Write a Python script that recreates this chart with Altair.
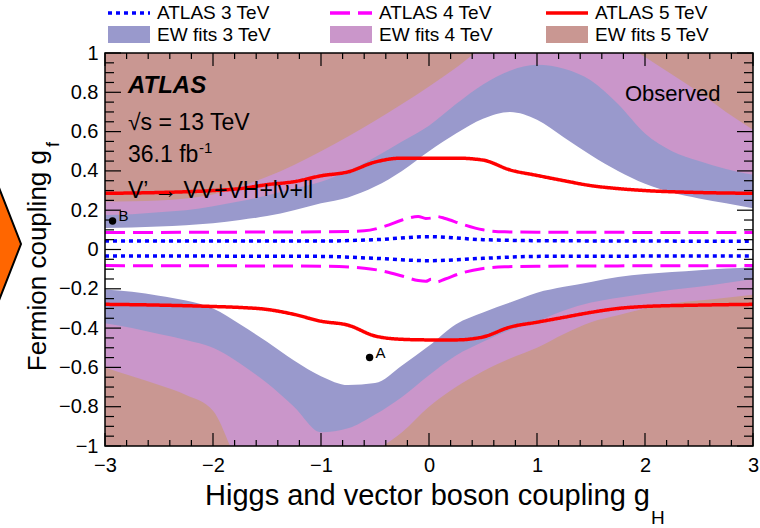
import altair as alt
import numpy as np
import pandas as pd

FONT = "Liberation Sans"
BROWN = "#C99792"
PINK = "#CA96CA"
BLUEBAND = "#9999CC"

# ---------------- data ----------------
GH = [-3.0, -2.75, -2.5, -2.25, -2.0, -1.75, -1.5, -1.25, -1.0, -0.75, -0.5, -0.25,
      0.0, 0.25, 0.5, 0.75, 1.0, 1.25, 1.5, 1.75, 2.0, 2.25, 2.5, 2.75, 3.0]
# EW fits 4 TeV (pink) outer edges  (beyond: EW fits 5 TeV, brown)
EW4_UP = [0.243, 0.245, 0.25, 0.26, 0.28, 0.32, 0.37, 0.43, 0.50, 0.575, 0.655, 0.74,
          0.83, 0.925, 1.03, 1.10, 1.14, 1.15, 1.12, 1.06, 0.98, 0.89, 0.80, 0.70, 0.61]
EW4_LO = [-0.60, -0.645, -0.69, -0.74, -0.82, -1.10, -1.20, -1.25, -1.25, -1.15, -1.03, -0.93,
          -0.80, -0.70, -0.62, -0.555, -0.50, -0.43, -0.37, -0.335, -0.30, -0.275, -0.26, -0.245, -0.23]
# EW fits 3 TeV (blue) outer edges
EW3_UP = [0.175, 0.18, 0.19, 0.20, 0.22, 0.245, 0.275, 0.31, 0.345, 0.40, 0.47, 0.55,
          0.63, 0.74, 0.84, 0.91, 0.94, 0.92, 0.86, 0.74, 0.59, 0.50, 0.45, 0.41, 0.38]
EW3_LO = [-0.375, -0.40, -0.43, -0.46, -0.50, -0.58, -0.68, -0.80, -0.93, -0.91, -0.84, -0.75,
          -0.64, -0.54, -0.47, -0.41, -0.365, -0.31, -0.27, -0.245, -0.225, -0.205, -0.19, -0.17, -0.15]
# allowed (white) region edges
OK_UP = [0.11, 0.112, 0.117, 0.123, 0.133, 0.15, 0.17, 0.20, 0.235, 0.265, 0.32, 0.40,
         0.50, 0.59, 0.665, 0.70, 0.66, 0.57, 0.48, 0.40, 0.335, 0.29, 0.26, 0.235, 0.21]
OK_LO = [-0.203, -0.215, -0.235, -0.26, -0.30, -0.38, -0.47, -0.565, -0.645, -0.69, -0.68, -0.59,
         -0.49, -0.38, -0.32, -0.27, -0.22, -0.19, -0.165, -0.14, -0.125, -0.115, -0.105, -0.097, -0.09]

# ATLAS observed limits
RED_X = [-3.0, -2.5, -2.0, -1.75, -1.5, -1.25, -1.0, -0.75, -0.5, -0.25, 0.0, 0.25, 0.5,
         0.75, 1.0, 1.25, 1.5, 1.75, 2.0, 2.5, 3.0]
RED_UP = [0.286, 0.29, 0.30, 0.31, 0.33, 0.345, 0.375, 0.395, 0.445, 0.465, 0.465, 0.465, 0.455,
          0.405, 0.377, 0.35, 0.325, 0.31, 0.30, 0.29, 0.286]
RED_LO = [-0.279, -0.283, -0.29, -0.295, -0.305, -0.33, -0.365, -0.385, -0.44, -0.457, -0.46, -0.46, -0.445,
          -0.395, -0.37, -0.345, -0.32, -0.30, -0.29, -0.283, -0.279]
MAG_X = [-3.0, -2.0, -1.0, -0.6, -0.4, -0.25, -0.1, -0.03, 0.02, 0.07, 0.15, 0.3, 0.5, 0.7, 1.0, 2.0, 3.0]
MAG_UP = [0.086, 0.088, 0.09, 0.095, 0.12, 0.15, 0.168, 0.158, 0.16, 0.168, 0.158, 0.13, 0.10, 0.09,
          0.088, 0.087, 0.086]
MAG_LO = [-0.082, -0.083, -0.085, -0.095, -0.113, -0.135, -0.158, -0.162, -0.152, -0.165, -0.15, -0.12,
          -0.097, -0.088, -0.085, -0.083, -0.082]
BLU_X = [-3.0, -1.0, -0.5, 0.0, 0.5, 1.0, 3.0]
BLU_UP = [0.043, 0.043, 0.05, 0.065, 0.05, 0.045, 0.042]
BLU_LO = [-0.033, -0.035, -0.045, -0.057, -0.045, -0.035, -0.033]

PT_LABELS = ["A", "B"]
PT_X = [-0.55, -2.93]
PT_Y = [-0.55, 0.145]

X_TICK_LABELS = [-3, -2, -1, 0, 1, 2, 3]
Y_TICK_LABELS = [-1, -0.8, -0.6, -0.4, -0.2, 0, 0.2, 0.4, 0.6, 0.8, 1]

LEG_LINE_LABELS = ["ATLAS 3 TeV", "ATLAS 4 TeV", "ATLAS 5 TeV"]
LEG_BAND_LABELS = ["EW fits 3 TeV", "EW fits 4 TeV", "EW fits 5 TeV"]

# ---------------- layout / style ----------------
W, H = 648, 393
LINE_COLORS = ["#0000FF", "#FF00FF", "#FF0000"]
LINE_DASH = [[4, 4], [20, 8], [1, 0]]
BAND_COLORS = [BLUEBAND, PINK, BROWN]
LEG_COL_X = [3, 225, 441]

XS = alt.Scale(domain=[-3, 3], nice=False, zero=False)
YS = alt.Scale(domain=[-1, 1], nice=False, zero=False)
XAX = alt.Axis(values=X_TICK_LABELS, format="~g", ticks=False, domain=False, grid=False, title=None,
               labelFontSize=20, labelPadding=9, labelFont=FONT, labelColor="black", labelFlush=False)
YAX = alt.Axis(values=Y_TICK_LABELS, format="~g", ticks=False, domain=False, grid=False, title=None,
               labelFontSize=20, labelPadding=7, labelFont=FONT, labelColor="black", labelFlush=False)


def xq(f):
    return alt.X(f, type="quantitative", scale=XS, axis=XAX)


def yq(f):
    return alt.Y(f, type="quantitative", scale=YS, axis=YAX)


band = pd.DataFrame({"gH": GH, "p_lo": EW4_LO, "p_up": EW4_UP, "b_lo": EW3_LO, "b_up": EW3_UP,
                     "w_lo": OK_LO, "w_up": OK_UP})

layers = []
for lo, up, col in [("p_lo", "p_up", PINK), ("b_lo", "b_up", BLUEBAND), ("w_lo", "w_up", "white")]:
    layers.append(alt.Chart(band).mark_area(color=col, opacity=1, clip=True, interpolate="monotone")
                  .encode(x=xq("gH"), y=yq(lo), y2=alt.Y2(up)))


def line_df(xs, up, lo):
    return pd.DataFrame({"gH": list(xs) + list(xs), "gf": list(up) + list(lo),
                         "half": ["up"] * len(xs) + ["lo"] * len(xs)})


for (xs, up, lo), col, dash, sw in zip(
        [(BLU_X, BLU_UP, BLU_LO), (MAG_X, MAG_UP, MAG_LO), (RED_X, RED_UP, RED_LO)],
        LINE_COLORS, LINE_DASH, [3.5, 3, 3.5]):
    layers.append(alt.Chart(line_df(xs, up, lo)).mark_line(color=col, strokeWidth=sw, strokeDash=dash,
                                                           interpolate="monotone", clip=True)
                  .encode(x=xq("gH"), y=yq("gf"), detail="half:N"))

pts = pd.DataFrame({"gH": PT_X, "gf": PT_Y, "lab": PT_LABELS})
layers.append(alt.Chart(pts).mark_point(filled=True, color="black", size=55, opacity=1)
              .encode(x=xq("gH"), y=yq("gf")))
layers.append(alt.Chart(pts).mark_text(font=FONT, fontSize=15, align="left", dx=6, dy=-5, color="black")
              .encode(x=xq("gH"), y=yq("gf"), text="lab:N"))


def txt(s, x, y, size, **kw):
    return alt.Chart(pd.DataFrame({"t": [s]})).mark_text(font=FONT, fontSize=size, color="black",
                                                         baseline=kw.pop("baseline", "alphabetic"),
                                                         align=kw.pop("align", "left"), **kw) \
        .encode(x=alt.value(x), y=alt.value(y), text="t:N")


# annotations inside the plot
layers.append(txt("ATLAS", 23, 40, 24, fontWeight="bold", fontStyle="italic"))
layers.append(txt("√s = 13 TeV", 23, 77, 23))
layers.append(txt("36.1 fb", 23, 109, 23))
layers.append(txt("-1", 94, 100, 15))
layers.append(txt("V’ → VV+VH+lν+ll", 23, 145, 23))
layers.append(txt("Observed", 520, 48, 22))

# ticks (inside, all four sides)
X_MAJOR = X_TICK_LABELS
X_MINOR = [round(v, 2) for v in np.arange(-3, 3.001, 0.2) if abs(v - round(v)) > 1e-6]
Y_MAJOR = Y_TICK_LABELS
Y_MINOR = [round(v, 2) for v in np.arange(-1, 1.001, 0.05) if abs(v * 5 - round(v * 5)) > 1e-6]
for vals, ln in [(X_MAJOR, 13), (X_MINOR, 6)]:
    d = pd.DataFrame({"v": vals})
    layers.append(alt.Chart(d).mark_rule(color="black", strokeWidth=1.2)
                  .encode(x=xq("v"), y=alt.value(H), y2=alt.value(H - ln)))
    layers.append(alt.Chart(d).mark_rule(color="black", strokeWidth=1.2)
                  .encode(x=xq("v"), y=alt.value(0), y2=alt.value(ln)))
for vals, ln in [(Y_MAJOR, 16), (Y_MINOR, 9)]:
    d = pd.DataFrame({"v": vals})
    layers.append(alt.Chart(d).mark_rule(color="black", strokeWidth=1.2)
                  .encode(y=yq("v"), x=alt.value(0), x2=alt.value(ln)))
    layers.append(alt.Chart(d).mark_rule(color="black", strokeWidth=1.2)
                  .encode(y=yq("v"), x=alt.value(W), x2=alt.value(W - ln)))

# frame
layers.append(alt.Chart(pd.DataFrame({"k": [0]})).mark_rect(fill=None, fillOpacity=0, stroke="black",
                                                             strokeWidth=1.5)
              .encode(x=alt.value(0), x2=alt.value(W), y=alt.value(0), y2=alt.value(H)))

# axis titles
layers.append(txt("Higgs and vector boson coupling g", 545, 452, 29, align="right"))
layers.append(txt("H", 546, 471, 19))
layers.append(txt("Fermion coupling g", -59, 97, 26, align="right", angle=270))
layers.append(txt("f", -46, 94, 18, angle=270))

# legend
for i in range(3):
    cx = LEG_COL_X[i]
    layers.append(alt.Chart(pd.DataFrame({"k": [0]})).mark_rule(color=LINE_COLORS[i], strokeWidth=3.5,
                                                                strokeDash=LINE_DASH[i])
                  .encode(x=alt.value(cx), x2=alt.value(cx + 42), y=alt.value(-40)))
    layers.append(alt.Chart(pd.DataFrame({"k": [0]})).mark_rect(color=BAND_COLORS[i], opacity=1)
                  .encode(x=alt.value(cx), x2=alt.value(cx + 42), y=alt.value(-27), y2=alt.value(-10)))
    layers.append(txt(LEG_LINE_LABELS[i], cx + 49, -40, 19, baseline="middle"))
    layers.append(txt(LEG_BAND_LABELS[i], cx + 49, -18, 19, baseline="middle"))

# orange arrow decoration at the left edge
layers.append(alt.Chart(pd.DataFrame({"k": [0]}))
              .mark_point(shape="M-0.19,-1L0.2,0L-0.19,1Z", size=57600, filled=True, fill="#FF6600",
                          stroke="black", strokeWidth=2, opacity=1, fillOpacity=1, strokeOpacity=1)
              .encode(x=alt.value(-108), y=alt.value(191)))

chart = alt.layer(*layers).properties(
    width=W, height=H,
    padding={"left": 105, "top": 53, "right": 7, "bottom": 82},
    autosize=alt.AutoSizeParams(type="none"),
    background="white",
).configure_view(fill=BROWN, stroke=None).configure_axis(labelFont=FONT)

chart.save("out.html", embed_options={"renderer": "svg", "actions": False})
